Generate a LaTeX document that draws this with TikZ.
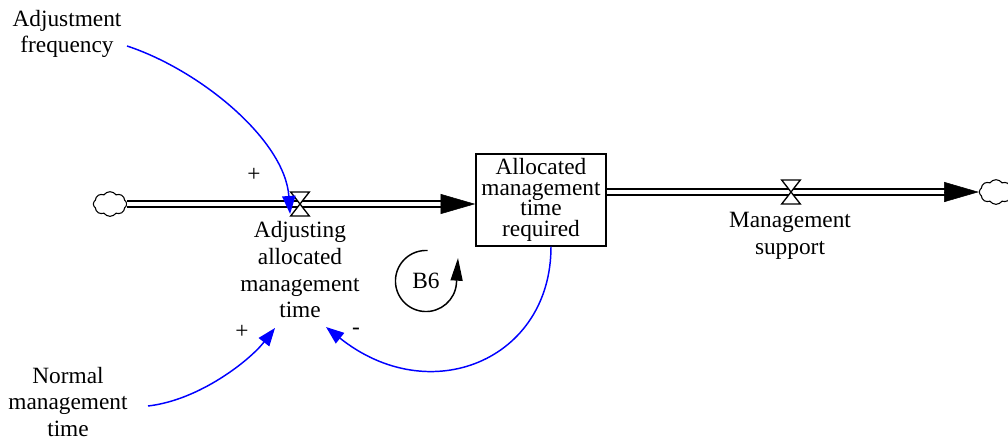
\documentclass[tikz,border=0pt]{standalone}
\usepackage{fontspec}
\setmainfont{Liberation Serif}
\usetikzlibrary{arrows.meta,shapes.symbols,calc}
\begin{document}
\begin{tikzpicture}[x=0.75pt,y=0.75pt,
  lbl/.style={align=center,inner sep=0pt,font=\fontsize{17.5}{20}\selectfont},
  stock/.style={draw,line width=1.1pt,minimum width=97.5pt,minimum height=69pt,
    inner sep=0pt,align=center,font=\fontsize{17.5}{15.5}\selectfont},
  sink/.style={cloud,cloud puffs=8,cloud puff arc=110,draw,line width=0.8pt,
    minimum width=25pt,minimum height=18.5pt,inner sep=0pt,fill=white},
  valvebox/.style={inner sep=0pt,minimum width=13.5pt,minimum height=17.5pt},
  valveline/.style={draw,line width=1pt,fill=white},
  pipe/.style={draw,line width=1.4pt,double=white,double distance=2.6pt},
  pipehead/.style={draw,line width=0.4pt,-{Triangle[length=26pt,width=15pt]}},
  link/.style={draw=blue,line width=1.1pt,-{Triangle[length=13.5pt,width=10pt]}},
  loopline/.style={draw,line width=1.1pt,-{Triangle[length=17pt,width=9pt]}},
  sign/.style={inner sep=0pt,font=\fontsize{17.5}{20}\selectfont}
]
\useasboundingbox (0,0) rectangle (1008,-444);

% stock
\node[stock] (stock) at (541,-200) {Allocated\\management\\time\\required};

% sources and sinks
\node[sink] (cloudL) at (110,-204) {};
\node[sink] (cloudR) at (996,-192) {};

% flow pipes
\coordinate (tipL) at (stock.west |- cloudL.east);
\coordinate (startR) at (stock.east |- cloudR.west);
\draw[pipe,shorten >=25pt] (cloudL.east) -- (tipL);
\draw[pipehead] ([xshift=-26pt]tipL) -- (tipL);
\draw[pipe,shorten >=25pt] (startR) -- (cloudR.west);
\draw[pipehead] ([xshift=-26pt]cloudR.west) -- (cloudR.west);

% valves
\node[valvebox] (valveIn) at (300,-204) {};
\node[valvebox] (valveOut) at (791,-192) {};
\foreach \v in {valveIn,valveOut}
  \draw[valveline] (\v.north west) -- (\v.north east) -- (\v.south west) -- (\v.south east) -- cycle;

% labels
\node[lbl] (adjusting) at (300,-270) {Adjusting\\allocated\\management\\time};
\node[lbl] (support) at (790,-236) {Management\\support};
\node[lbl] (adjfreq) at (67,-34) {Adjustment\\frequency};
\node[lbl] (normal) at (68,-402) {Normal\\management\\time};

% causal links
\coordinate (afOut) at (127,-46);
\coordinate (nmOut) at (148,-406);
\coordinate (nmIn) at (275,-328);
\coordinate (fbIn) at (326,-327);
\draw[link] (afOut) .. controls (200,-70) and (285,-140) .. ([xshift=-0.5pt,yshift=1.5pt]valveIn.south west);
\draw[link] (nmOut) .. controls (200,-400) and (250,-360) .. (nmIn);
\draw[link] ([xshift=7.5pt]stock.south) .. controls (551,-360) and (430,-410) .. (fbIn);

% polarity signs
\node[sign] (s1) at (254,-175) {+};
\node[sign] (s2) at (242,-332) {+};
\node[sign] (s3) at (356,-331) {-};

% loop marker
\node[lbl] (loopB6) at (426,-281) {B6};
\coordinate (loopTip) at (458,-258);
\draw[loopline] ([shift={(87:22.9pt)}]loopB6.center) arc[start angle=87,end angle=355,radius=22.9pt] -- (loopTip);
\end{tikzpicture}
\end{document}
